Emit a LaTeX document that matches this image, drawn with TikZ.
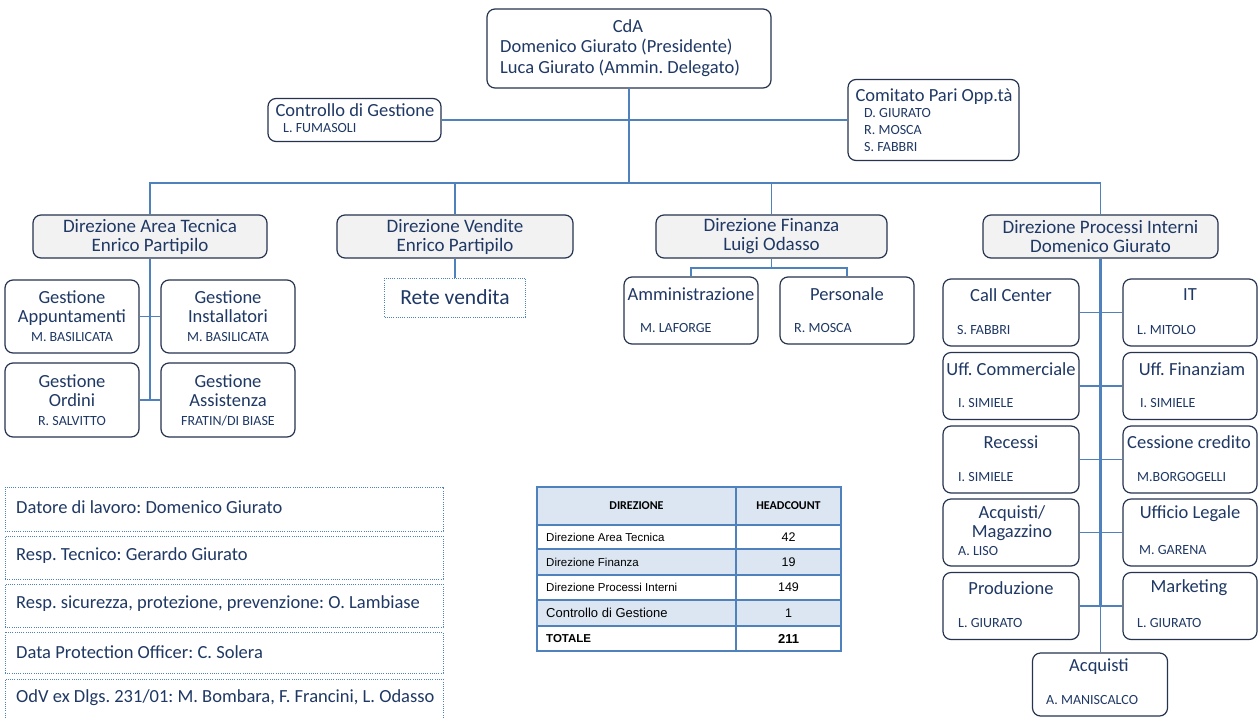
\documentclass[tikz,border=0pt]{standalone}
\usepackage{fontspec}
\setmainfont{Carlito}
\newfontfamily\arialfont{Liberation Sans}
\usetikzlibrary{calc}
\frenchspacing
\definecolor{navy}{RGB}{31,56,100}
\definecolor{boxline}{RGB}{38,52,80}
\definecolor{linkblue}{RGB}{79,129,189}
\definecolor{dirgray}{RGB}{242,242,242}
\definecolor{rowblue}{RGB}{220,230,242}
\newcommand{\whofont}{\fontsize{14}{15}\selectfont}
\tikzset{
	box/.style={draw=boxline, line width=1.2pt, rounded corners=8pt, inner sep=0pt, text=navy, align=center, font=\fontsize{18.5}{19}\selectfont},
	dirbox/.style={box, fill=dirgray, minimum height=43pt, font=\fontsize{19}{19}\selectfont},
	dotbox/.style={draw=linkblue, line width=1pt, dash pattern=on 1pt off 1.2pt, inner sep=0pt, text=navy, font=\fontsize{18.5}{20}\selectfont},
	title/.style={text=navy, inner sep=0pt, font=\fontsize{18.5}{20}\selectfont},
	who/.style={text=navy, inner sep=0pt, anchor=west, font=\whofont},
	link/.style={draw=linkblue, line width=1.3pt},
	tabline/.style={draw=linkblue, line width=1.5pt},
	cell/.style={inner sep=0pt, font=\arialfont\fontsize{11.5}{13}\selectfont},
}

\begin{document}
\begin{tikzpicture}[x=1pt,y=-1pt]
	%%%%% START %%%%%
	\useasboundingbox[fill=white] (0,0) rectangle (1258,718);
	
	\node[box, minimum width=284pt, minimum height=79pt] (cda) at (629,48.5) {};
	\node[title] (cda-t) at (628,26) {CdA};
	\node[title, anchor=west] (cda-p) at (500,47) {Domenico Giurato (Presidente)};
	\node[title, anchor=west] (cda-d) at (500,68) {Luca Giurato (Ammin. Delegato)};
	
	\node[box, minimum width=173pt, minimum height=43pt] (cdg) at (354.5,120) {};
	\node[title] (cdg-t) at (355,110) {Controllo di Gestione};
	\node[who] (cdg-p) at (283,128) {L. FUMASOLI};
	
	\node[box, minimum width=171pt, minimum height=81pt] (cpo) at (933.5,120) {};
	\node[title] (cpo-t) at (934,97) {Comitato Pari Opp.tà};
	\node[who] (cpo-1) at (864,113) {D. GIURATO};
	\node[who] (cpo-2) at (864,130) {R. MOSCA};
	\node[who] (cpo-3) at (864,147) {S. FABBRI};
	
	\coordinate (bus) at (629,183);
	\draw[link] (cda.south) -- (bus);
	\draw[link] (cdg.east) -- (cpo.west);
	
	\node[dirbox, minimum width=234pt] (dat) at (150,236.5) {Direzione Area Tecnica\\Enrico Partipilo};
	\node[dirbox, minimum width=236pt] (dv) at (455,236.5) {Direzione Vendite\\Enrico Partipilo};
	\node[dirbox, minimum width=231pt] (df) at (771.5,236.5) {Direzione Finanza\\Luigi Odasso};
	\node[dirbox, minimum width=235pt] (dpi) at (1100.5,236.5) {Direzione Processi Interni\\Domenico Giurato};
	\draw[link] (dat.north) |- (bus) -| (dpi.north);
	\draw[link] (dv.north) -- (dv.north |- bus);
	\draw[link] (df.north) -- (df.north |- bus);
	
	% area tecnica
	\node[box, minimum width=134pt, minimum height=73pt] (ga) at (72,316.5) {Gestione\\Appuntamenti\\{\whofont M. BASILICATA}};
	\node[box, minimum width=134pt, minimum height=73pt] (gi) at (228,316.5) {Gestione\\Installatori\\{\whofont M. BASILICATA}};
	\node[box, minimum width=134pt, minimum height=74pt] (go) at (72,400) {Gestione\\Ordini\\{\whofont R. SALVITTO}};
	\node[box, minimum width=134pt, minimum height=74pt] (gas) at (228,400) {Gestione\\Assistenza\\{\whofont FRATIN/DI BIASE}};
	\draw[link] (dat.south) -- (dat.south |- go.east);
	\draw[link] (ga.east) -- (gi.west);
	\draw[link] (go.east) -- (gas.west);
	
	% vendite
	\node[dotbox, minimum width=141pt, minimum height=39pt, font=\fontsize{21.5}{24}\selectfont] (rv) at (455,297.5) {Rete vendita};
	\draw[link] (dv.south) -- (rv.north);
	
	% finanza
	\node[box, minimum width=134pt, minimum height=67pt] (amm) at (691,310.5) {};
	\node[title] (amm-t) at (691,294) {Amministrazione};
	\node[who] (amm-p) at (640,328) {M. LAFORGE};
	\node[box, minimum width=134pt, minimum height=67pt] (per) at (847,310.5) {};
	\node[title] (per-t) at (847,294) {Personale};
	\node[who] (per-p) at (794,328) {R. MOSCA};
	\coordinate (dfbar) at (771.5,268);
	\draw[link] (df.south) -- (dfbar);
	\draw[link] (amm.north) |- (dfbar) -| (per.north);
	
	% processi interni
	\node[box, minimum width=136pt, minimum height=67pt] (cc) at (1011,312.5) {};
	\node[title] (cc-t) at (1011,295) {Call Center};
	\node[who] (cc-p) at (957,330) {S. FABBRI};
	\node[box, minimum width=134pt, minimum height=67pt] (it) at (1190,312.5) {};
	\node[title] (it-t) at (1190,295) {IT};
	\node[who] (it-p) at (1137,330) {L. MITOLO};
	
	\node[box, minimum width=136pt, minimum height=67pt] (uc) at (1011,386) {};
	\node[title] (uc-t) at (1011,369) {Uff. Commerciale};
	\node[who] (uc-p) at (958,403) {I. SIMIELE};
	\node[box, minimum width=134pt, minimum height=67pt] (uf) at (1190,386) {};
	\node[title] (uf-t) at (1192,369) {Uff. Finanziam};
	\node[who] (uf-p) at (1140,403) {I. SIMIELE};
	
	\node[box, minimum width=136pt, minimum height=67pt] (rec) at (1011,459.5) {};
	\node[title] (rec-t) at (1011,442) {Recessi};
	\node[who] (rec-p) at (958,477) {I. SIMIELE};
	\node[box, minimum width=134pt, minimum height=67pt] (ces) at (1190,459.5) {};
	\node[title] (ces-t) at (1189,442) {Cessione credito};
	\node[who] (ces-p) at (1137,477) {M.BORGOGELLI};
	
	\node[box, minimum width=136pt, minimum height=67pt] (mag) at (1011,532.5) {};
	\node[title] (mag-t) at (1012,514) {Acquisti/};
	\node[title] (mag-u) at (1012,533) {Magazzino};
	\node[who] (mag-p) at (958,551) {A. LISO};
	\node[box, minimum width=134pt, minimum height=67pt] (leg) at (1190,532.5) {};
	\node[title] (leg-t) at (1190,514) {Ufficio Legale};
	\node[who] (leg-p) at (1139,550) {M. GARENA};
	
	\node[box, minimum width=136pt, minimum height=67pt] (pro) at (1011,606) {};
	\node[title] (pro-t) at (1011,588) {Produzione};
	\node[who] (pro-p) at (958,623) {L. GIURATO};
	\node[box, minimum width=134pt, minimum height=67pt] (mkt) at (1190,606) {};
	\node[title] (mkt-t) at (1189,588) {Marketing};
	\node[who] (mkt-p) at (1137,623) {L. GIURATO};
	
	\node[box, minimum width=135pt, minimum height=63pt] (acq) at (1100,684.5) {};
	\node[title] (acq-t) at (1099,667) {Acquisti};
	\node[who] (acq-p) at (1046,700) {A. MANISCALCO};
	
	\draw[link, line width=2.6pt] (dpi.south) -- (dpi.south |- pro.east);
	\draw[link] (dpi.south) -- (dpi.south |- acq.north);
	\draw[link] (cc.east) -- (it.west);
	\draw[link] (uc.east) -- (uf.west);
	\draw[link] (rec.east) -- (ces.west);
	\draw[link] (mag.east) -- (leg.west);
	\draw[link] (pro.east) -- (mkt.west);
	
	% ruoli
	\node[dotbox, minimum width=438pt, minimum height=44pt] (dl) at (224,509) {};
	\node[title, anchor=west] (dl-t) at (16,507) {Datore di lavoro: Domenico Giurato};
	\node[dotbox, minimum width=438pt, minimum height=43pt] (rt) at (224,557.5) {};
	\node[title, anchor=west] (rt-t) at (16,556) {Resp. Tecnico: Gerardo Giurato};
	\node[dotbox, minimum width=438pt, minimum height=43pt] (rspp) at (224,605.5) {};
	\node[title, anchor=west] (rspp-t) at (16,603.5) {Resp. sicurezza, protezione, prevenzione: O. Lambiase};
	\node[dotbox, minimum width=438pt, minimum height=41pt] (dpo) at (224,652.5) {};
	\node[title, anchor=west] (dpo-t) at (16,652) {Data Protection Officer: C. Solera};
	\node[dotbox, minimum width=438pt, minimum height=43pt] (odv) at (224,700.5) {};
	\node[title, anchor=west] (odv-t) at (16,698) {OdV ex Dlgs. 231/01: M. Bombara, F. Francini, L. Odasso};
	
	% headcount
	\fill[rowblue] (537,487) rectangle (841,525);
	\fill[rowblue] (537,549) rectangle (841,575);
	\fill[rowblue] (537,600) rectangle (841,626);
	\draw[tabline] (537,487) rectangle (841,651);
	\draw[tabline] (736,487) -- (736,651);
	\draw[tabline] (537,525) -- (841,525);
	\draw[tabline] (537,549) -- (841,549);
	\draw[tabline] (537,575) -- (841,575);
	\draw[tabline] (537,600) -- (841,600);
	\draw[tabline] (537,626) -- (841,626);
	\node[cell, font=\fontsize{12}{14}\selectfont\bfseries] (th1) at (636.5,506) {DIREZIONE};
	\node[cell, font=\fontsize{12}{14}\selectfont\bfseries] (th2) at (788.5,506) {HEADCOUNT};
	\node[cell, anchor=west] (r1) at (546,537.5) {Direzione Area Tecnica};
	\node[cell, anchor=west] (r2) at (546,562.5) {Direzione Finanza};
	\node[cell, anchor=west] (r3) at (546,587.5) {Direzione Processi Interni};
	\node[cell, anchor=west, font=\arialfont\fontsize{13}{15}\selectfont] (r4) at (546,613) {Controllo di Gestione};
	\node[cell, anchor=west, font=\arialfont\bfseries\fontsize{11.5}{13}\selectfont] (r5) at (546,638.5) {TOTALE};
	\node[cell, font=\arialfont\fontsize{12.5}{14}\selectfont] (v1) at (788.5,537.5) {42};
	\node[cell, font=\arialfont\fontsize{12.5}{14}\selectfont] (v2) at (788.5,562.5) {19};
	\node[cell, font=\arialfont\fontsize{12.5}{14}\selectfont] (v3) at (788.5,587.5) {149};
	\node[cell, font=\arialfont\fontsize{12.5}{14}\selectfont] (v4) at (788.5,613) {1};
	\node[cell, font=\arialfont\bfseries\fontsize{13}{15}\selectfont] (v5) at (788.5,638.5) {211};
	%%%%% END %%%%%
\end{tikzpicture}
\end{document}
